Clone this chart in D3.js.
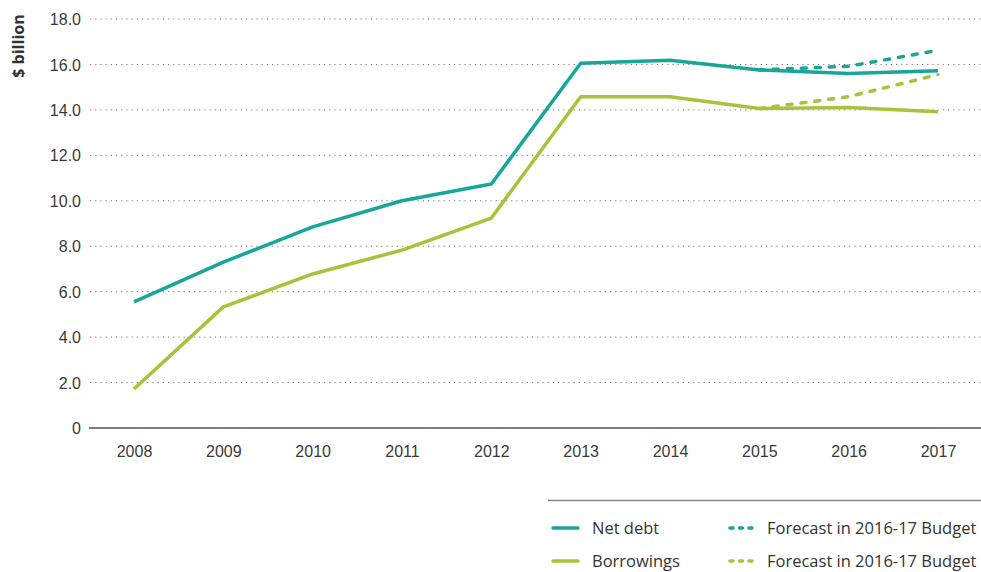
<!DOCTYPE html>
<html>
<head>
<meta charset="utf-8">
<script src="https://cdn.jsdelivr.net/npm/d3@7"></script>
<style>
  body { margin: 0; background: #fff; }
  svg { display: block; font-family: "Open Sans", "Noto Sans", sans-serif; }
</style>
</head>
<body>
<svg id="chart" width="981" height="572"></svg>
<script>
// Years on the x axis
const years = [2008, 2009, 2010, 2011, 2012, 2013, 2014, 2015, 2016, 2017];
// Actuals ($ billion)
const netDebt    = [5.55, 7.3, 8.85, 10.0, 10.74, 16.05, 16.18, 15.76, 15.6, 15.72];
const borrowings = [1.72, 5.33, 6.78, 7.83, 9.24, 14.58, 14.58, 14.06, 14.1, 13.92];
// Forecasts in the 2016-17 Budget
const forecastYears      = [2015, 2016, 2017];
const netDebtForecast    = [15.76, 15.92, 16.62];
const borrowingsForecast = [14.06, 14.58, 15.55];
// Y ticks
const yTicks = [0, 2, 4, 6, 8, 10, 12, 14, 16, 18];

const teal = "#17a69a";
const green = "#a5c43a";

const svg = d3.select("#chart");
const W = 981;

const x = d3.scalePoint().domain(years).range([134, 938]);
const y = d3.scaleLinear().domain([0, 18]).range([428, 19]);

// Dotted horizontal gridlines
svg.append("g").selectAll("line")
  .data(yTicks.filter(d => d > 0))
  .join("line")
  .attr("x1", 90).attr("x2", W)
  .attr("y1", d => y(d)).attr("y2", d => y(d))
  .attr("stroke", "#777")
  .attr("stroke-width", 1)
  .attr("stroke-dasharray", "1.2,4");

// Y axis labels
const yAxis = d3.axisLeft(y).tickValues(yTicks)
  .tickFormat(d => d === 0 ? "0" : d3.format(".1f")(d))
  .tickSize(0).tickPadding(0);
const gy = svg.append("g").attr("transform", "translate(81,0)").call(yAxis);
gy.select(".domain").remove();
gy.selectAll("text")
  .attr("fill", "#3a3a3a")
  .style("font-size", "16px")
  .attr("dy", "0.35em");

// X axis labels and baseline
const xAxis = d3.axisBottom(x).tickSize(0).tickPadding(18);
const gx = svg.append("g").attr("transform", `translate(0,${y(0)})`).call(xAxis);
gx.select(".domain").remove();
gx.selectAll("text")
  .attr("fill", "#3a3a3a")
  .style("font-size", "16px");
svg.append("line")
  .attr("x1", 89).attr("x2", W)
  .attr("y1", y(0)).attr("y2", y(0))
  .attr("stroke", "#555").attr("stroke-width", 1.5);

// Y axis title
svg.append("text")
  .attr("transform", "translate(24,46) rotate(-90)")
  .attr("text-anchor", "middle")
  .attr("fill", "#333")
  .style("font-size", "16px")
  .style("font-weight", "700")
  .text("$ billion");

const line = d3.line().x(d => x(d[0])).y(d => y(d[1]));

function drawSeries(xs, vals, color, dashed) {
  svg.append("path")
    .datum(xs.map((yr, i) => [yr, vals[i]]))
    .attr("d", line)
    .attr("fill", "none")
    .attr("stroke", color)
    .attr("stroke-width", 3.5)
    .attr("stroke-linejoin", "round")
    .attr("stroke-linecap", dashed ? "round" : "butt")
    .attr("stroke-dasharray", dashed ? "5,9" : null);
}

drawSeries(forecastYears, netDebtForecast, teal, true);
drawSeries(forecastYears, borrowingsForecast, green, true);
drawSeries(years, netDebt, teal, false);
drawSeries(years, borrowings, green, false);

// Legend
svg.append("line")
  .attr("x1", 548).attr("x2", W)
  .attr("y1", 500.5).attr("y2", 500.5)
  .attr("stroke", "#888").attr("stroke-width", 1.5);

const legendItems = [
  { label: "Net debt", color: teal, dashed: false, x: 553, y: 528 },
  { label: "Forecast in 2016-17 Budget", color: teal, dashed: true, x: 728, y: 528 },
  { label: "Borrowings", color: green, dashed: false, x: 553, y: 561 },
  { label: "Forecast in 2016-17 Budget", color: green, dashed: true, x: 728, y: 561 }
];
const lg = svg.append("g").selectAll("g").data(legendItems).join("g")
  .attr("transform", d => `translate(${d.x},${d.y})`);
lg.append("line")
  .attr("x1", d => d.dashed ? 2 : 0).attr("x2", 25)
  .attr("stroke", d => d.color)
  .attr("stroke-width", 3.5)
  .attr("stroke-linecap", "round")
  .attr("stroke-dasharray", d => d.dashed ? "3,6.5" : null);
lg.append("text")
  .attr("x", 39).attr("dy", "0.35em")
  .attr("fill", "#333")
  .style("font-size", "16.5px")
  .text(d => d.label);
</script>
</body>
</html>
